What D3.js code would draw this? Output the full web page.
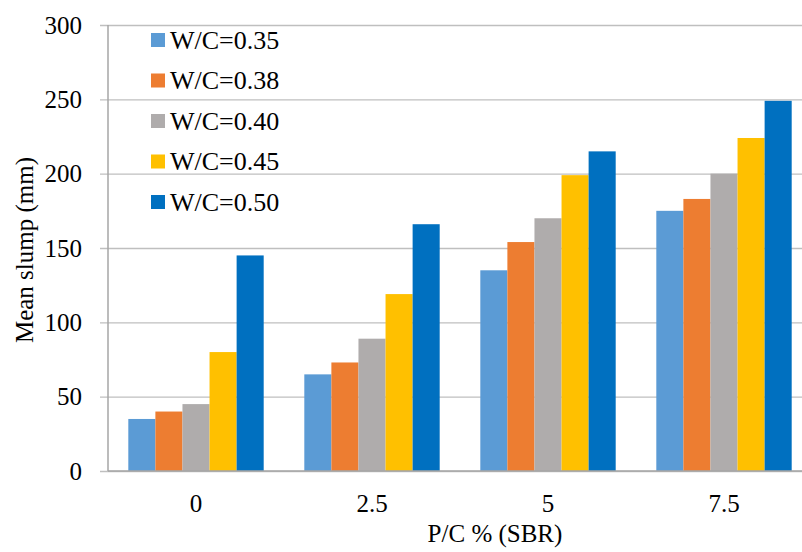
<!DOCTYPE html>
<html>
<head>
<meta charset="utf-8">
<script src="https://cdn.jsdelivr.net/npm/d3@7"></script>
<style>
  html, body { margin: 0; padding: 0; background: #fff; }
  svg { display: block; }
  svg text { font-family: "Liberation Serif", "Times New Roman", serif; fill: #000; }
</style>
</head>
<body>
<svg id="chart" width="802" height="552"></svg>
<script>
// Mean slump of SBR-modified mixes for each polymer/cement ratio
const categories = ["0", "2.5", "5", "7.5"];
const seriesNames = ["W/C=0.35", "W/C=0.38", "W/C=0.40", "W/C=0.45", "W/C=0.50"];
const wc035 = [35, 65, 135, 175];
const wc038 = [40, 73, 154, 183];
const wc040 = [45, 89, 170, 200];
const wc045 = [80, 119, 199, 224];
const wc050 = [145, 166, 215, 249];
const yTicks = [0, 50, 100, 150, 200, 250, 300];
const colors = ["#5B9BD5", "#ED7D31", "#AFACAC", "#FFC000", "#0070C0"];

const seriesValues = [wc035, wc038, wc040, wc045, wc050];

const svg = d3.select("#chart");
const plot = { left: 108, right: 812, top: 25, bottom: 471 };

const x = d3.scaleBand().domain(categories).range([plot.left, plot.right])
  .paddingInner(0).paddingOuter(0);
// 150% gap between clusters: the cluster holds 5 bars out of 6.5 bar widths
const xInner = d3.scaleBand().domain(seriesNames)
  .range([0, x.bandwidth()]).paddingInner(0).paddingOuter(0.75);
const y = d3.scaleLinear().domain([0, 300]).range([plot.bottom, plot.top]);

// Horizontal gridlines with small outward tick marks
const yAxis = d3.axisLeft(y).tickValues(yTicks).tickSize(-(802 - plot.left)).tickPadding(26).tickFormat(d3.format("d"));
const gy = svg.append("g").attr("transform", `translate(${plot.left},0)`).call(yAxis);
gy.attr("font-family", null);
gy.select(".domain").remove();
gy.selectAll(".tick line").attr("stroke", "#BFBFBF").attr("stroke-width", 1.3).attr("x1", -8);
gy.selectAll(".tick text").attr("font-size", 25);

// Bars
const groups = svg.append("g").selectAll("g").data(categories).join("g")
  .attr("transform", d => `translate(${x(d)},0)`);
groups.selectAll("rect")
  .data((c, ci) => seriesNames.map((s, si) => ({ s, si, v: seriesValues[si][ci] })))
  .join("rect")
  .attr("x", d => xInner(d.s))
  .attr("width", xInner.bandwidth())
  .attr("y", d => y(d.v))
  .attr("height", d => y(0) - y(d.v))
  .attr("fill", d => colors[d.si]);

// Axis lines
svg.append("line").attr("x1", plot.left).attr("x2", plot.left)
  .attr("y1", plot.top).attr("y2", plot.bottom).attr("stroke", "#A6A6A6").attr("stroke-width", 1.5);
const xAxis = d3.axisBottom(x).tickSize(0).tickPadding(23);
const gx = svg.append("g").attr("transform", `translate(0,${plot.bottom})`).call(xAxis);
gx.attr("font-family", null);
gx.select(".domain").remove();
gx.selectAll(".tick text").attr("font-size", 25);
svg.append("line").attr("x1", plot.left).attr("x2", 802)
  .attr("y1", plot.bottom).attr("y2", plot.bottom).attr("stroke", "#A6A6A6").attr("stroke-width", 1.5);

// Axis titles
svg.append("text").attr("x", 495).attr("y", 542).attr("text-anchor", "middle")
  .attr("font-size", 25).text("P/C % (SBR)");
svg.append("text").attr("transform", "translate(33,250) rotate(-90)")
  .attr("text-anchor", "middle").attr("font-size", 25).text("Mean slump (mm)");

// Legend
const legend = svg.append("g").selectAll("g").data(seriesNames).join("g")
  .attr("transform", (d, i) => `translate(151,${40 + i * 40.5})`);
legend.append("rect").attr("x", 0).attr("y", -7).attr("width", 14).attr("height", 14)
  .attr("fill", (d, i) => colors[i]);
legend.append("text").attr("x", 19).attr("y", 8.5).attr("font-size", 26).text(d => d);
</script>
</body>
</html>
